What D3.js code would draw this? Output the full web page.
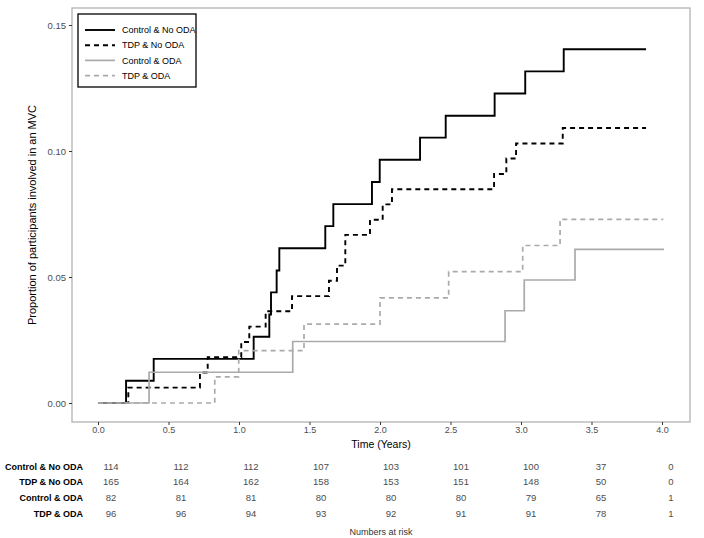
<!DOCTYPE html>
<html><head><meta charset="utf-8">
<script src="https://cdn.jsdelivr.net/npm/d3@7"></script>
<style>body{margin:0;background:#fff;} svg{display:block;font-family:"Liberation Sans",Arial,sans-serif;}</style>
</head><body>
<script>
// ---- data ----
const groups = ["Control & No ODA", "TDP & No ODA", "Control & ODA", "TDP & ODA"];
const ctrlNoOdaTime = [0, 0.199, 0.395, 1.104, 1.215, 1.227, 1.267, 1.286, 1.612, 1.669, 1.943, 1.998, 2.284, 2.466, 2.813, 3.030, 3.303, 3.887];
const ctrlNoOdaProb = [0, 0.0088, 0.0175, 0.0263, 0.0351, 0.0439, 0.0526, 0.0614, 0.0702, 0.0789, 0.0877, 0.0965, 0.1053, 0.1140, 0.1228, 0.1316, 0.1404, 0.1404];
const tdpNoOdaTime = [0, 0.215, 0.723, 0.778, 1.016, 1.073, 1.189, 1.376, 1.638, 1.695, 1.754, 1.929, 2.019, 2.085, 2.809, 2.896, 2.965, 3.296, 3.887];
const tdpNoOdaProb = [0, 0.0061, 0.0121, 0.0182, 0.0242, 0.0303, 0.0364, 0.0424, 0.0485, 0.0545, 0.0667, 0.0727, 0.0788, 0.0848, 0.0909, 0.0970, 0.1030, 0.1091, 0.1091];
const ctrlOdaTime = [0, 0.362, 1.381, 2.887, 3.023, 3.383, 4.014];
const ctrlOdaProb = [0, 0.0122, 0.0244, 0.0366, 0.0488, 0.0610, 0.0610];
const tdpOdaTime = [0, 0.828, 0.998, 1.461, 2.000, 2.487, 3.012, 3.277, 4.009];
const tdpOdaProb = [0, 0.0104, 0.0208, 0.0313, 0.0417, 0.0521, 0.0625, 0.0729, 0.0729];
const xTicks = [0, 0.5, 1, 1.5, 2, 2.5, 3, 3.5, 4];
const yTicks = [0, 0.05, 0.10, 0.15];
const riskTimes = [0, 0.5, 1, 1.5, 2, 2.5, 3, 3.5, 4];
const riskCtrlNoOda = [114, 112, 112, 107, 103, 101, 100, 37, 0];
const riskTdpNoOda = [165, 164, 162, 158, 153, 151, 148, 50, 0];
const riskCtrlOda = [82, 81, 81, 80, 80, 80, 79, 65, 1];
const riskTdpOda = [96, 96, 94, 93, 92, 91, 91, 78, 1];

const series = [
  {name: groups[0], t: ctrlNoOdaTime, p: ctrlNoOdaProb, color: "#000", dash: null, w: 1.9},
  {name: groups[1], t: tdpNoOdaTime, p: tdpNoOdaProb, color: "#000", dash: "5,4", w: 1.9},
  {name: groups[2], t: ctrlOdaTime, p: ctrlOdaProb, color: "#aaaaaa", dash: null, w: 1.7},
  {name: groups[3], t: tdpOdaTime, p: tdpOdaProb, color: "#aaaaaa", dash: "5,4", w: 1.7}
];
const riskRows = [riskCtrlNoOda, riskTdpNoOda, riskCtrlOda, riskTdpOda];

const W = 704, H = 538;
const svg = d3.select("body").append("svg").attr("width", W).attr("height", H);

const panel = {left: 72, right: 690, top: 8, bottom: 422};
const x = d3.scaleLinear().domain([0, 4]).range([98, 662]);
const y = d3.scaleLinear().domain([0, 0.15]).range([403, 25]);

// panel border
svg.append("rect").attr("x", panel.left).attr("y", panel.top)
  .attr("width", panel.right - panel.left).attr("height", panel.bottom - panel.top)
  .attr("fill", "#fff").attr("stroke", "#b3b3b3").attr("stroke-width", 1.3);

// axes
const xAxis = d3.axisBottom(x).tickValues(xTicks).tickFormat(d3.format(".1f")).tickSize(3).tickPadding(2);
const gx = svg.append("g").attr("transform", `translate(0,${panel.bottom})`).call(xAxis);
gx.select(".domain").remove();
gx.selectAll("line").attr("stroke", "#333");
gx.selectAll("text").attr("fill", "#4d4d4d").attr("font-size", 9).attr("font-family", "Liberation Sans, Arial, sans-serif");

const yAxis = d3.axisLeft(y).tickValues(yTicks).tickFormat(d3.format(".2f")).tickSize(3).tickPadding(3);
const gy = svg.append("g").attr("transform", `translate(${panel.left},0)`).call(yAxis);
gy.select(".domain").remove();
gy.selectAll("line").attr("stroke", "#333");
gy.selectAll("text").attr("fill", "#4d4d4d").attr("font-size", 9.5).attr("font-family", "Liberation Sans, Arial, sans-serif");

// axis titles
svg.append("text").attr("x", (panel.left + panel.right) / 2).attr("y", 448)
  .attr("text-anchor", "middle").attr("font-size", 10.5).attr("fill", "#000").text("Time (Years)");
svg.append("text").attr("transform", `translate(36,${(panel.top + panel.bottom) / 2}) rotate(-90)`)
  .attr("text-anchor", "middle").attr("font-size", 11).attr("fill", "#000")
  .text("Proportion of participants involved in an MVC");

// curves
const line = d3.line().x(d => x(d[0])).y(d => y(d[1])).curve(d3.curveStepAfter);
series.forEach(s => {
  const pts = s.t.map((t, i) => [t, s.p[i]]);
  svg.append("path").attr("d", line(pts)).attr("fill", "none")
    .attr("stroke", s.color).attr("stroke-width", s.w)
    .attr("stroke-dasharray", s.dash);
});

// legend
const lg = svg.append("g");
lg.append("rect").attr("x", 78).attr("y", 14).attr("width", 118).attr("height", 73)
  .attr("fill", "#fff").attr("stroke", "#000").attr("stroke-width", 1.3);
series.forEach((s, i) => {
  const yy = 30 + i * 15.2;
  lg.append("line").attr("x1", 85).attr("x2", 115).attr("y1", yy).attr("y2", yy)
    .attr("stroke", s.color).attr("stroke-width", s.w).attr("stroke-dasharray", s.dash);
  lg.append("text").attr("x", 122).attr("y", yy).attr("dy", "0.35em")
    .attr("font-size", 9).attr("fill", "#000").text(s.name);
});

// risk table
const xr = d3.scaleLinear().domain([0, 4]).range([111, 671]);
const rowY = [466.5, 482, 498, 513.5];
riskRows.forEach((row, r) => {
  svg.append("text").attr("x", 83).attr("y", rowY[r]).attr("dy", "0.35em")
    .attr("text-anchor", "end").attr("font-size", 9).attr("font-weight", "bold")
    .attr("fill", "#000").text(groups[r]);
  row.forEach((v, i) => {
    svg.append("text").attr("x", xr(riskTimes[i])).attr("y", rowY[r]).attr("dy", "0.35em")
      .attr("text-anchor", "middle").attr("font-size", 9.5).attr("fill", "#4d4d4d").text(v);
  });
});
svg.append("text").attr("x", 381).attr("y", 532).attr("dy", "0.35em")
  .attr("text-anchor", "middle").attr("font-size", 9).attr("fill", "#333").text("Numbers at risk");
</script>
</body></html>
